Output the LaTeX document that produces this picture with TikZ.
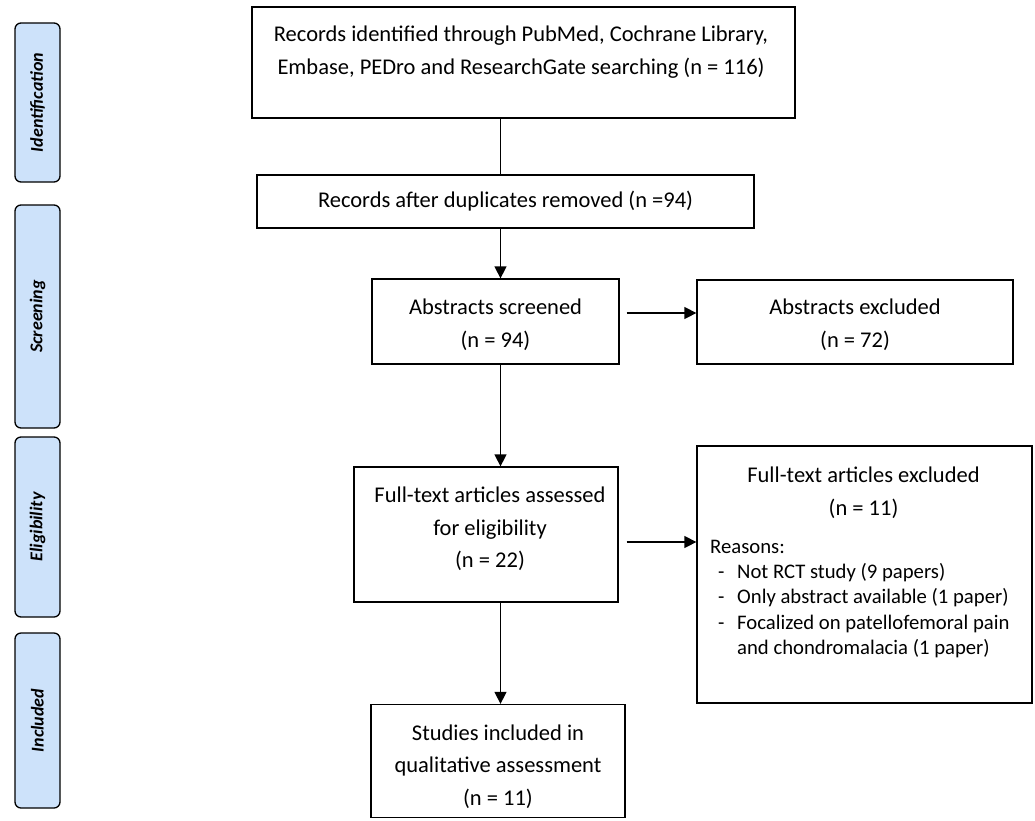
\documentclass[tikz,border=0pt]{standalone}
\usepackage{fontspec}
\setmainfont{Carlito}
\usetikzlibrary{arrows.meta,calc}
\definecolor{sidefill}{RGB}{205,226,250}
\begin{document}
\begin{tikzpicture}[x=1pt,y=-1pt,
  box/.style={draw=black, line width=1.3pt, inner sep=0pt},
  txt/.style={inner sep=0pt, align=center, font=\fontsize{22.5}{32.5}\selectfont},
  side/.style={draw=black, line width=1.3pt, fill=sidefill, rounded corners=6pt, inner sep=0pt, minimum width=45pt},
  sidetxt/.style={rotate=90, inner sep=0pt, font=\fontsize{18}{20}\selectfont\bfseries\itshape},
  conn/.style={line width=1.4pt},
  arr/.style={conn, -{Triangle[length=12pt,width=12pt]}}]
\useasboundingbox (0,0) rectangle (1035,820);
% side labels
\node[side, minimum height=159pt] (sid) at (37.5,102.5) {};
\node[sidetxt] (sidt) at (sid.center) {Identification};
\node[side, minimum height=223pt] (sscr) at (37.5,316.5) {};
\node[sidetxt] (sscrt) at (sscr.center) {Screening};
\node[side, minimum height=180pt] (selg) at (37.5,527) {};
\node[sidetxt] (selgt) at (selg.center) {Eligibility};
\node[side, minimum height=175pt] (sinc) at (37.5,720.5) {};
\node[sidetxt] (sinct) at (sinc.center) {Included};
% main boxes
\node[box, minimum width=543pt, minimum height=111pt] (top) at (523.5,62.5) {};
\node[txt] (topt) at (521,52) {Records identified through PubMed, Cochrane Library,\\ Embase, PEDro and ResearchGate searching (n = 116)};
\node[box, minimum width=497pt, minimum height=53pt] (dup) at (505.5,201.5) {};
\node[txt] (dupt) at (dup.center) {Records after duplicates removed (n =94)};
\node[box, minimum width=247pt, minimum height=85pt] (abs) at (495.5,321.5) {};
\node[txt] (abst) at (495.5,324.5) {Abstracts screened\\ (n = 94)};
\node[box, minimum width=316pt, minimum height=84pt] (absx) at (855,322) {};
\node[txt] (absxt) at (855,324.5) {Abstracts excluded\\ (n = 72)};
\node[box, minimum width=264pt, minimum height=135pt] (ft) at (486,534.5) {};
\node[txt] (ftt) at (490,529) {Full-text articles assessed\\ for eligibility\\ (n = 22)};
\node[box, minimum width=335pt, minimum height=257pt] (ftx) at (864.5,574.5) {};
\node[txt] (ftxt) at (863.5,492.5) {Full-text articles excluded\\ (n = 11)};
\node[txt, align=left, anchor=north west, font=\fontsize{20.7}{25.2}\selectfont] (ftxr) at (710,540) {Reasons:\\
\makebox[27pt][l]{\hspace{8pt}-}Not RCT study (9 papers)\\
\makebox[27pt][l]{\hspace{8pt}-}Only abstract available (1 paper)\\
\makebox[27pt][l]{\hspace{8pt}-}Focalized on patellofemoral pain\\
\hspace{27pt}and chondromalacia (1 paper)};
\node[box, minimum width=254pt, minimum height=113pt] (inc) at (498,761) {};
\node[txt] (inct) at (498,766.5) {Studies included in\\ qualitative assessment\\ (n = 11)};
% connectors
\coordinate (cx) at (500.5,0);
\draw[conn] (cx |- top.south) -- (cx |- dup.north);
\draw[arr] (cx |- dup.south) -- (cx |- abs.north);
\draw[arr] (cx |- abs.south) -- (cx |- ft.north);
\draw[arr] (cx |- ft.south) -- (cx |- inc.north);
\draw[arr, shorten <=7pt] (abs.east |- 0,313) -- (absx.west |- 0,313);
\draw[arr, shorten <=8pt] (ft.east |- 0,542) -- (ftx.west |- 0,542);
\end{tikzpicture}
\end{document}
